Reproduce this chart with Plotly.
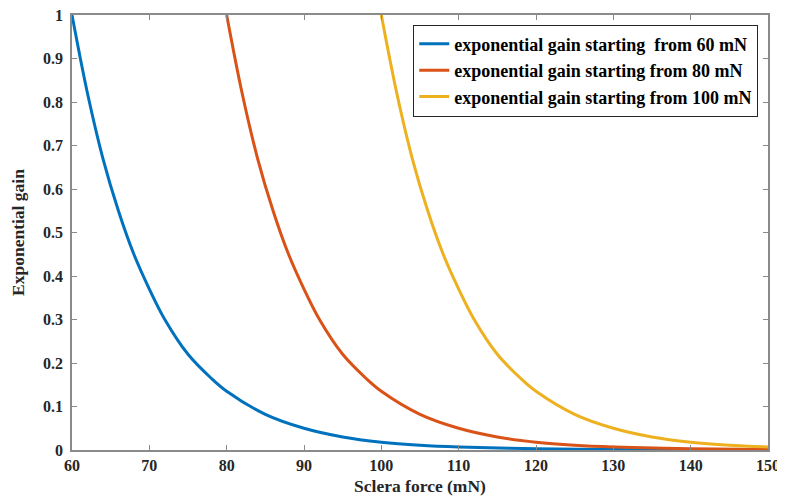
import plotly.graph_objects as go

# Values
blue_x = [60, 62, 64, 66, 68, 70, 72, 75, 78, 80, 85, 90, 95, 100, 105, 110, 120, 130, 140, 150]
blue_y = [1.0, 0.82, 0.67, 0.55, 0.45, 0.37, 0.30, 0.22, 0.165, 0.135, 0.082, 0.050, 0.030, 0.018, 0.011, 0.007, 0.003, 0.001, 0.0005, 0.0002]

red_x = [80, 82, 84, 86, 88, 90, 92, 95, 98, 100, 105, 110, 115, 120, 125, 130, 140, 150]
red_y = [1.0, 0.82, 0.67, 0.55, 0.45, 0.37, 0.30, 0.22, 0.165, 0.135, 0.082, 0.050, 0.030, 0.018, 0.011, 0.007, 0.003, 0.001]

yellow_x = [100, 102, 104, 106, 108, 110, 112, 115, 118, 120, 125, 130, 135, 140, 145, 150]
yellow_y = [1.0, 0.82, 0.67, 0.55, 0.45, 0.37, 0.30, 0.22, 0.165, 0.135, 0.082, 0.050, 0.030, 0.018, 0.011, 0.007]

names = [
    "exponential gain starting  from 60 mN",
    "exponential gain starting from 80 mN",
    "exponential gain starting from 100 mN",
]
colors = ["#0072BD", "#D95319", "#EDB120"]

x_ticks = [60, 70, 80, 90, 100, 110, 120, 130, 140, 150]
y_ticks = [0, 0.1, 0.2, 0.3, 0.4, 0.5, 0.6, 0.7, 0.8, 0.9, 1]
y_ticklabels = ["0", "0.1", "0.2", "0.3", "0.4", "0.5", "0.6", "0.7", "0.8", "0.9", "1"]

fig = go.Figure()
for xs, ys, nm, c in zip([blue_x, red_x, yellow_x], [blue_y, red_y, yellow_y], names, colors):
    fig.add_trace(go.Scatter(x=xs, y=ys, mode="lines", name=nm,
                             line=dict(color=c, width=3, shape="spline", smoothing=1.0)))

font_family = "Liberation Serif, Times New Roman, serif"
fig.update_layout(
    width=785, height=500,
    # the page body adds an 8px offset, so margins compensate for it
    margin=dict(l=64, r=25, t=7, b=58, autoexpand=False),
    paper_bgcolor="white", plot_bgcolor="white",
    font=dict(family=font_family, color="#262626", size=16),
    showlegend=True,
    legend=dict(
        x=0.986, y=0.978, xanchor="right", yanchor="top",
        bgcolor="white", bordercolor="#262626", borderwidth=1,
        font=dict(family=font_family, size=18, color="black", weight="bold"),
        tracegroupgap=0, itemwidth=30,
    ),
)
fig.update_xaxes(
    range=[60, 150], tickvals=x_ticks, automargin=False,
    showgrid=False, zeroline=False, ticklabeloverflow="allow",
    showline=True, linecolor="#8a8a8a", linewidth=1.5, mirror="ticks",
    ticks="inside", ticklen=5, tickcolor="#8a8a8a",
    tickfont=dict(family=font_family, size=16, color="#262626", weight="bold"),
    title=dict(text="Sclera force (mN)", standoff=7,
               font=dict(family=font_family, size=17.5, color="#262626", weight="bold")),
)
fig.update_yaxes(
    range=[0, 1], tickvals=y_ticks, ticktext=y_ticklabels, automargin=False,
    showgrid=False, zeroline=False, ticklabeloverflow="allow",
    showline=True, linecolor="#8a8a8a", linewidth=1.5, mirror="ticks",
    ticks="inside", ticklen=5, tickcolor="#8a8a8a", ticklabelstandoff=4,
    tickfont=dict(family=font_family, size=16, color="#262626", weight="bold"),
    title=dict(text="Exponential gain", standoff=15,
               font=dict(family=font_family, size=17.5, color="#262626", weight="bold")),
)

fig.write_html("out.html")
